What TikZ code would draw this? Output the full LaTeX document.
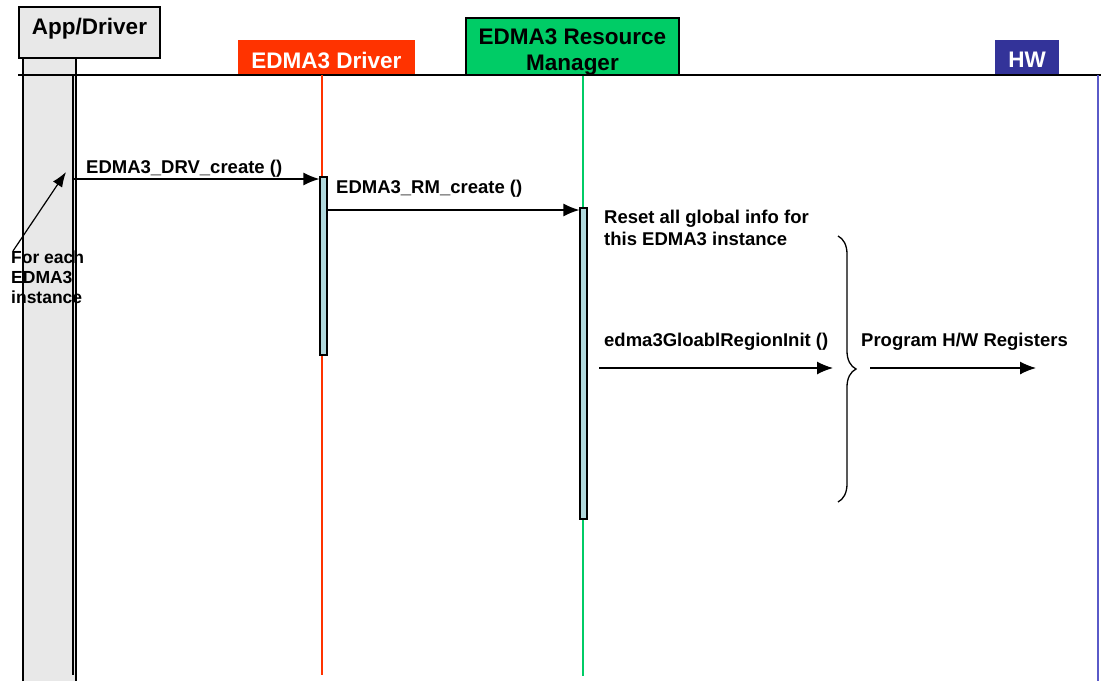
\documentclass[tikz,border=0pt]{standalone}
\usepackage{fontspec}
\setmainfont{Liberation Sans}
\usetikzlibrary{positioning,arrows.meta,decorations.pathreplacing}
\definecolor{appgray}{RGB}{232,232,232}
\definecolor{drvred}{RGB}{255,51,0}
\definecolor{rmgreen}{RGB}{0,204,102}
\definecolor{hwblue}{RGB}{51,51,153}
\definecolor{hwline}{RGB}{90,90,200}
\definecolor{actblue}{RGB}{176,216,220}

\begin{document}
\begin{tikzpicture}[x=1pt,y=-1pt,
>={Latex[length=16pt,width=13pt]},
head/.style ={ rectangle ,inner sep=0pt ,align=center ,
font=\fontsize{22.5}{26}\selectfont\bfseries},
act/.style ={ rectangle ,draw ,fill=actblue ,line width=1.2pt ,
minimum width=7pt ,inner sep=0pt},
lbl/.style ={ inner sep=0pt ,anchor=base west ,
font=\fontsize{18.5}{22}\selectfont\bfseries},
msg/.style ={ ->, line width=1.3pt}]
\useasboundingbox (0,0) rectangle (1101,681);

% App/Driver column
\draw[fill=appgray, line width=1.3pt] (23,681) -- (23,58) -- (76,58) -- (76,681);
\draw[line width=1.3pt] (73,76) -- (73,675);
\node[head, draw, fill=appgray, line width=1.5pt, minimum width=141pt,
  minimum height=51pt, text height=27pt, text depth=24pt] (app) at (89.5,32.5) {App/Driver};

% lifeline heads
\node[head, fill=drvred, text=white, minimum width=177pt, minimum height=35pt,
  text height=28pt, text depth=7pt] (drv) at (326.5,57.5) {EDMA3 Driver};
\node[draw, fill=rmgreen, line width=1.5pt, minimum width=213pt,
  minimum height=57pt] (rm) at (572.5,46.5) {};
\node[head] (rmtext) at (572.5,52.5) {EDMA3 Resource\\Manager};
\node[head, fill=hwblue, text=white, minimum width=64pt, minimum height=35pt,
  text height=27pt, text depth=8pt] (hw) at (1027,57.5) {HW};
\draw[line width=1.2pt] (18,75) -- (1101,75);

% lifelines
\coordinate (drvend) at (322,675);
\coordinate (rmend) at (583,676);
\coordinate (hwend) at (1098,681);
\draw[drvred, line width=1.2pt] (drvend |- drv.south) -- (drvend);
\draw[rmgreen, line width=1.2pt] (rmend |- rm.south) -- (rmend);
\draw[hwline, line width=1.5pt] (hwend |- hw.south) -- (hwend);

% activations
\node[act, minimum height=178pt] (drvact) at (323.5,266) {};
\node[act, minimum height=311pt] (rmact) at (583.5,363.5) {};

% messages
\coordinate (appcall) at (73,179);
\draw[msg] (appcall) -- (appcall -| drvact.west);
\node[lbl] (drvlbl) at (86,173) {EDMA3\_DRV\_create ()};
\coordinate (drvcall) at (327,210);
\draw[msg] (drvcall) -- (drvcall -| rmact.west);
\node[lbl] (rmlbl) at (336,193) {EDMA3\_RM\_create ()};

\node[lbl, align=left, anchor=north west] (reset) at (604,210)
  {Reset all global info for\\this EDMA3 instance};
\node[lbl] (initlbl) at (604,346) {edma3GloablRegionInit ()};
\node[lbl] (reglbl) at (861,346) {Program H/W Registers};

\coordinate (initstart) at (599,368);
\coordinate (initend) at (833,368);
\coordinate (regstart) at (870,368);
\coordinate (regend) at (1036,368);
\draw[msg] (initstart) -- (initend);
\draw[msg] (regstart) -- (regend);
\draw[line width=1.3pt, decorate, decoration={brace, amplitude=18pt}]
  (838,236) -- (838,502);

% note
\node[lbl, align=left, anchor=north west, font=\fontsize{17.5}{20}\selectfont\bfseries]
  (note) at (11,251) {For each\\EDMA3\\instance};
\coordinate (apptip) at (66,172);
\draw[->, >={Latex[length=15pt,width=11pt]}, line width=1.2pt]
  ([xshift=2pt]note.north west) -- (apptip);
\end{tikzpicture}
\end{document}
